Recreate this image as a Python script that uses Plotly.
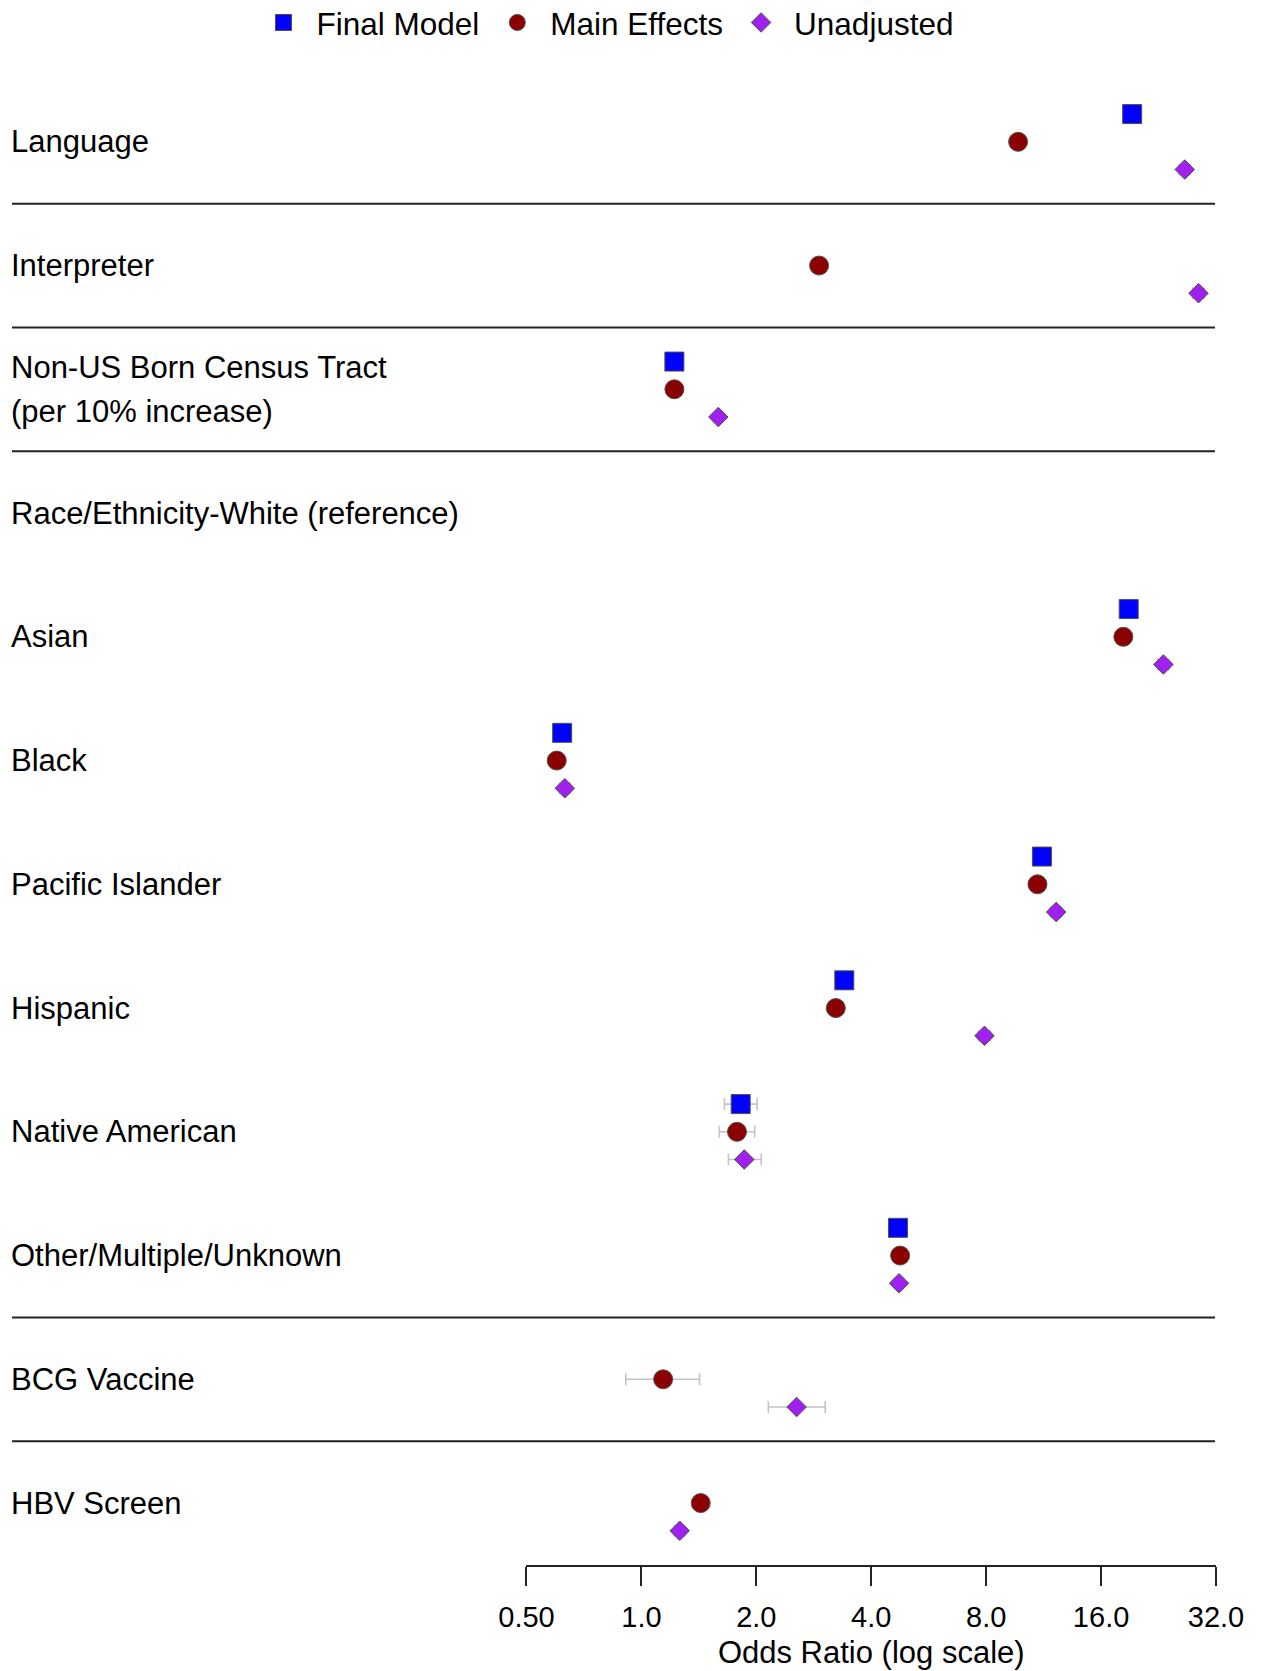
import math
import plotly.graph_objects as go

# ---------------- data ----------------
row_labels = [
    "Language",
    "Interpreter",
    "Non-US Born Census Tract<br>(per 10% increase)",
    "Race/Ethnicity-White (reference)",
    "Asian",
    "Black",
    "Pacific Islander",
    "Hispanic",
    "Native American",
    "Other/Multiple/Unknown",
    "BCG Vaccine",
    "HBV Screen",
]
separator_after = [0, 1, 2, 9, 10]

final_or = [19.3, None, 1.22, None, 18.9, 0.62, 11.2, 3.40, 1.82, 4.70, None, None]
final_lo = [18.6, None, 1.19, None, 18.2, 0.60, 10.8, 3.28, 1.65, 4.55, None, None]
final_hi = [20.0, None, 1.25, None, 19.6, 0.64, 11.6, 3.52, 2.01, 4.85, None, None]

main_or = [9.7, 2.92, 1.22, None, 18.3, 0.60, 10.9, 3.23, 1.78, 4.76, 1.14, 1.43]
main_lo = [9.3, 2.80, 1.19, None, 17.6, 0.58, 10.5, 3.12, 1.60, 4.62, 0.91, 1.38]
main_hi = [10.1, 3.04, 1.25, None, 19.0, 0.62, 11.3, 3.34, 1.98, 4.90, 1.42, 1.48]

unadj_or = [26.5, 28.8, 1.59, None, 23.3, 0.63, 12.2, 7.92, 1.86, 4.73, 2.55, 1.26]
unadj_lo = [25.6, 27.8, 1.55, None, 22.5, 0.61, 11.8, 7.65, 1.69, 4.60, 2.15, 1.22]
unadj_hi = [27.4, 29.8, 1.63, None, 24.1, 0.65, 12.6, 8.20, 2.06, 4.86, 3.03, 1.30]

tick_vals = [0.5, 1, 2, 4, 8, 16, 32]
tick_text = ["0.50", "1.0", "2.0", "4.0", "8.0", "16.0", "32.0"]

series = [
    ("Final Model", final_or, final_lo, final_hi, "square", "#0000FF", 19, -0.224),
    ("Main Effects", main_or, main_lo, main_hi, "circle", "#8B0000", 19, 0.0),
    ("Unadjusted", unadj_or, unadj_lo, unadj_hi, "diamond", "#A020F0", 15, 0.224),
]

# ---------------- figure ----------------
W, H = 1262, 1671
FONT = "Liberation Sans, Arial, Helvetica, sans-serif"
fig = go.Figure()

for name, est, lo, hi, sym, col, size, off in series:
    xs, ys, ep, em = [], [], [], []
    for i, v in enumerate(est):
        if v is None:
            continue
        xs.append(v)
        ys.append(i + off)
        ep.append(hi[i] - v)
        em.append(v - lo[i])
    fig.add_trace(go.Scatter(
        x=xs, y=ys, mode="markers", name=name,
        marker=dict(symbol=sym, size=size, color=col,
                    line=dict(color="#505050", width=1)),
        error_x=dict(type="data", symmetric=False, array=ep, arrayminus=em,
                     color="#c4c4c4", thickness=1.6, width=6),
    ))

# labels
label_x = 9 / W
for i, lab in enumerate(row_labels):
    parts = lab.split("<br>")
    if len(parts) == 1:
        fig.add_annotation(x=label_x, xref="paper", y=i, yref="y", text=lab,
                           showarrow=False, xanchor="left", yanchor="middle",
                           font=dict(size=31, color="#000", family=FONT))
    else:
        for k, p in enumerate(parts):
            fig.add_annotation(x=label_x, xref="paper", y=i - 0.18 + 0.36 * k, yref="y",
                               text=p, showarrow=False, xanchor="left", yanchor="middle",
                               font=dict(size=31, color="#000", family=FONT))

# separators
for s in separator_after:
    fig.add_shape(type="line", xref="paper", yref="y",
                  x0=12 / W, x1=1215 / W, y0=s + 0.5, y1=s + 0.5,
                  line=dict(color="#222", width=2))

# axis geometry
x_lo_px, x_hi_px = 526.5, 1216.0
eps = 0.001
lo_l, hi_l = math.log10(0.5), math.log10(32)
ppd = (x_hi_px - x_lo_px) / (hi_l - lo_l)
dom0 = (x_lo_px - eps * ppd) / W
dom1 = (x_hi_px + eps * ppd) / W

axis_y_px = 1565.0
row0_px, row_step = 141.8, 123.75
y_top = -row0_px / row_step
y_bot = (axis_y_px - row0_px) / row_step

fig.update_layout(
    width=W, height=H,
    margin=dict(l=0, r=0, t=0, b=H - axis_y_px, autoexpand=False),
    paper_bgcolor="white", plot_bgcolor="white",
    font=dict(family=FONT, color="#000"),
    showlegend=True,
    legend=dict(orientation="h", x=0.479, xanchor="center",
                y=(axis_y_px - 22.5) / axis_y_px, yanchor="middle",
                font=dict(size=31.5, family=FONT, color="#000"),
                bgcolor="rgba(0,0,0,0)", itemsizing="trace", itemwidth=56,
                tracegroupgap=0),
    xaxis=dict(type="log", domain=[dom0, dom1], range=[lo_l - eps, hi_l + eps],
               tickvals=tick_vals, ticktext=tick_text, ticks="outside",
               ticklen=19, tickwidth=1.5, tickcolor="#222",
               showline=True, linecolor="#222", linewidth=1.5,
               showgrid=False, zeroline=False, ticklabelstandoff=6,
               tickfont=dict(size=29, family=FONT, color="#000"),
               title=dict(text="Odds Ratio (log scale)", standoff=10,
                          font=dict(size=31, family=FONT, color="#000")),
               fixedrange=True),
    yaxis=dict(visible=False, range=[y_bot, y_top], fixedrange=True),
)

fig.write_html("out.html", config={"displayModeBar": False},
               post_script="document.body.style.margin='0';document.body.style.overflow='hidden';")
